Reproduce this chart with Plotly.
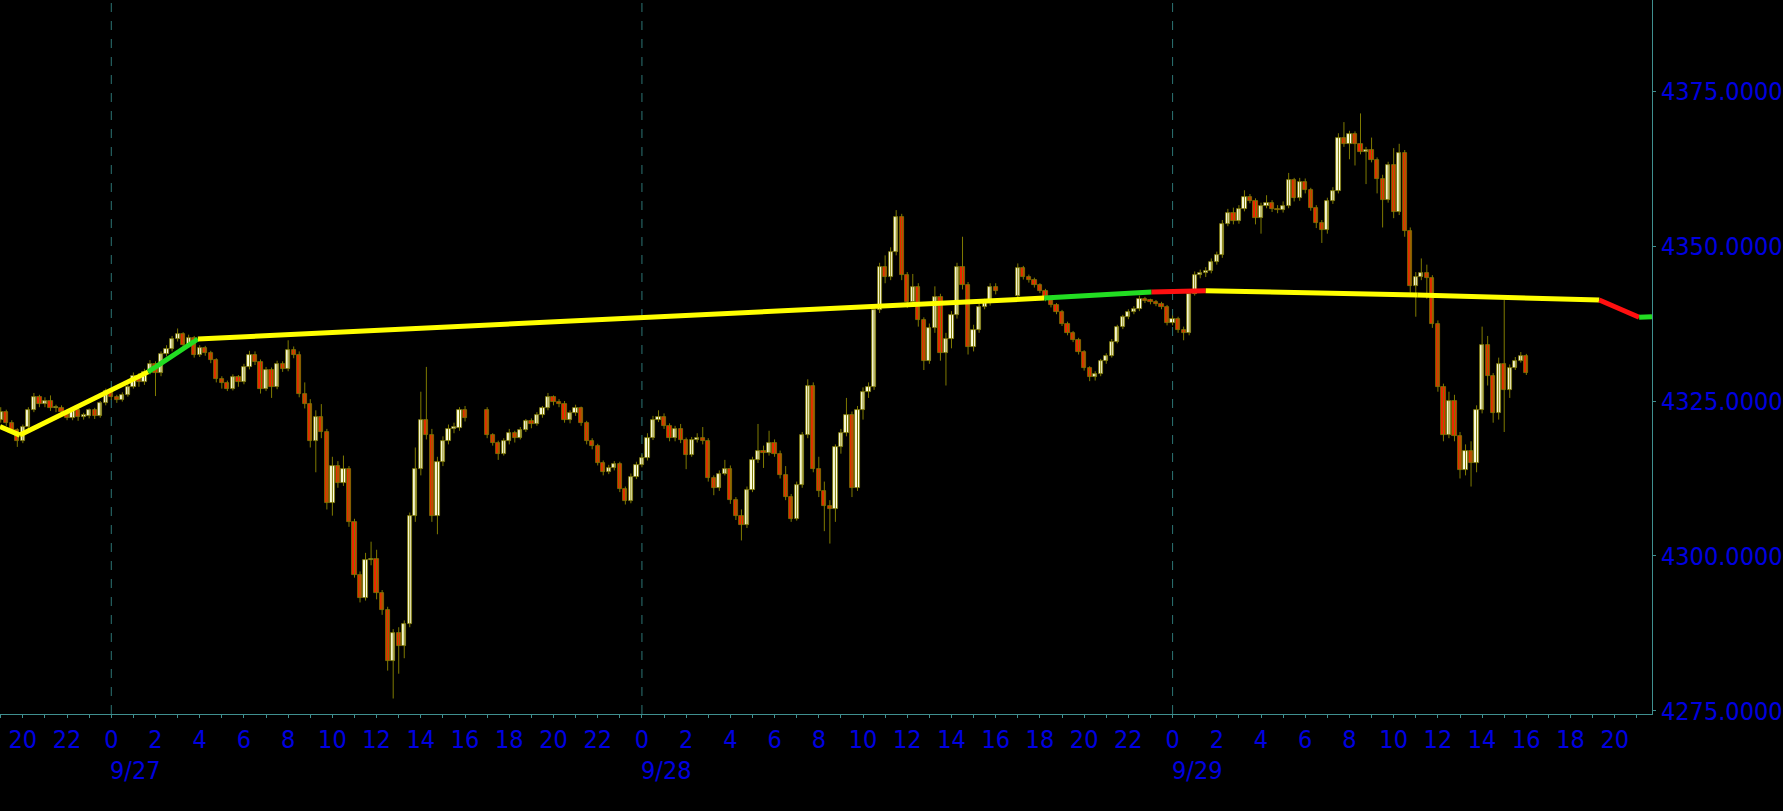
import pandas as pd
import plotly.graph_objects as go

# --- trading sessions (15-minute bars, gap 16:15-16:45 each day) ---
SESSIONS = [
    ("2021-09-26 19:00", "2021-09-27 16:00"),
    ("2021-09-27 17:00", "2021-09-28 16:00"),
    ("2021-09-28 17:00", "2021-09-29 16:00"),
]

OPEN = [
    # 9/26 19:00 -> 9/27 16:00
    4322.0, 4323.2, 4321.5, 4320.3, 4318.6, 4320.8, 4323.5, 4325.6, 4324.5, 4325.0, 4323.8, 4323.9,
    4323.2, 4322.3, 4323.6, 4322.5, 4322.6, 4323.5, 4322.6, 4324.6, 4326.6, 4325.7, 4325.2, 4326.0,
    4327.3, 4329.0, 4328.0, 4329.7, 4331.0, 4329.5, 4332.6, 4333.4, 4335.0, 4335.8, 4334.0, 4335.2,
    4332.5, 4333.5, 4332.8, 4331.6, 4328.5, 4327.9, 4327.0, 4328.8, 4328.0, 4330.5, 4332.5, 4331.3,
    4327.0, 4330.0, 4327.3, 4331.0, 4330.2, 4333.3, 4332.5, 4326.2, 4324.5, 4318.5, 4322.5, 4320.0,
    4308.5, 4314.5, 4311.8, 4314.0, 4305.5, 4297.0, 4293.2, 4299.3, 4299.5, 4294.0, 4291.3, 4283.0,
    4287.5, 4285.5, 4289.0, 4306.5, 4314.0, 4322.0, 4319.5, 4306.5, 4315.2, 4318.5, 4320.5, 4320.6,
    4323.5,
    # 9/27 17:00 -> 9/28 16:00
    4323.5, 4319.5, 4318.2, 4316.5, 4318.5, 4319.8, 4319.1, 4320.4, 4321.7, 4321.3, 4322.7, 4323.8,
    4325.6, 4324.8, 4324.5, 4322.0, 4323.0, 4323.8, 4321.4, 4318.5, 4317.8, 4315.0, 4313.6, 4314.2,
    4314.8, 4310.8, 4308.8, 4312.8, 4314.7, 4315.8, 4319.0, 4322.0, 4322.5, 4321.0, 4319.0, 4320.5,
    4318.7, 4316.3, 4318.7, 4319.0, 4318.5, 4312.5, 4311.0, 4313.3, 4314.0, 4309.0, 4306.4, 4305.0,
    4310.7, 4315.5, 4317.0, 4316.6, 4318.2, 4316.5, 4313.0, 4309.5, 4306.0, 4311.5, 4319.5, 4327.5,
    4314.0, 4310.5, 4308.0, 4307.5, 4317.5, 4319.8, 4322.8, 4311.0, 4323.5, 4326.5, 4327.3, 4339.7,
    4346.7, 4345.0, 4349.0, 4354.7, 4345.3, 4341.0, 4343.4, 4338.0, 4331.5, 4336.7, 4341.8, 4332.7,
    4335.0, 4338.8, 4346.7, 4343.7, 4333.7, 4336.5, 4340.2, 4340.8, 4343.4,
    # 9/28 17:00 -> 9/29 16:00
    4342.0, 4346.4, 4345.0, 4344.5, 4343.7, 4342.8, 4341.5, 4340.5, 4339.4, 4337.5, 4336.0, 4334.9,
    4332.9, 4330.3, 4328.8, 4329.4, 4331.4, 4332.3, 4334.6, 4336.9, 4338.5, 4339.4, 4339.8, 4341.5,
    4341.2, 4341.0, 4340.7, 4340.2, 4337.6, 4338.3, 4336.5, 4336.0, 4342.3, 4345.3, 4345.6, 4346.0,
    4347.4, 4348.5, 4353.6, 4355.3, 4354.0, 4356.0, 4357.9, 4357.3, 4354.6, 4356.5, 4357.0, 4356.0,
    4355.8, 4356.5, 4360.6, 4357.7, 4360.4, 4359.0, 4356.2, 4353.8, 4352.6, 4357.2, 4358.9, 4367.5,
    4366.5, 4368.0, 4366.5, 4365.2, 4365.5, 4363.9, 4360.9, 4357.5, 4363.0, 4355.5, 4365.0, 4352.5,
    4343.5, 4345.0, 4345.6, 4344.8, 4337.5, 4327.3, 4319.5, 4325.0, 4319.3, 4313.8, 4317.0, 4315.0,
    4323.5, 4334.0, 4329.0, 4323.0, 4331.0, 4326.8, 4330.3, 4331.5, 4332.3,
]

HIGH = [
    4324.0, 4323.6, 4321.9, 4320.6, 4321.2, 4324.0, 4326.3, 4326.0, 4325.6, 4325.9, 4324.4, 4324.3,
    4323.5, 4324.0, 4323.9, 4323.1, 4323.8, 4323.9, 4325.0, 4327.0, 4326.9, 4326.0, 4326.4, 4327.7,
    4329.6, 4329.5, 4330.2, 4331.6, 4331.4, 4333.0, 4334.0, 4335.5, 4336.7, 4336.1, 4335.7, 4335.5,
    4334.0, 4333.9, 4333.1, 4331.9, 4329.0, 4328.3, 4329.3, 4329.2, 4331.0, 4333.1, 4333.0, 4331.7,
    4330.5, 4330.4, 4331.5, 4331.4, 4334.8, 4333.8, 4333.0, 4328.0, 4325.3, 4323.5, 4324.5, 4320.5,
    4316.0, 4315.3, 4316.2, 4314.5, 4306.0, 4297.5, 4300.5, 4302.3, 4301.0, 4294.5, 4291.8, 4288.2,
    4288.5, 4289.6, 4307.0, 4317.5, 4326.5, 4330.5, 4320.5, 4316.0, 4319.3, 4321.2, 4321.5, 4324.0,
    4324.2,
    4324.0, 4319.8, 4318.6, 4319.0, 4320.5, 4320.2, 4320.8, 4322.1, 4322.2, 4323.2, 4324.2, 4326.3,
    4325.9, 4325.3, 4325.0, 4323.5, 4324.4, 4324.1, 4321.8, 4319.0, 4318.1, 4315.4, 4314.7, 4315.3,
    4315.2, 4311.2, 4313.3, 4315.2, 4316.4, 4319.8, 4322.6, 4323.5, 4323.0, 4321.4, 4321.0, 4321.3,
    4319.1, 4319.2, 4319.8, 4320.8, 4319.0, 4313.0, 4313.8, 4315.5, 4314.6, 4309.5, 4307.5, 4311.2,
    4316.0, 4321.3, 4317.8, 4320.2, 4318.8, 4317.0, 4314.5, 4310.0, 4312.0, 4320.0, 4328.5, 4328.0,
    4316.0, 4312.0, 4309.0, 4318.0, 4320.5, 4325.5, 4323.3, 4324.2, 4327.2, 4328.0, 4340.3, 4347.3,
    4348.5, 4349.8, 4355.8, 4355.2, 4345.8, 4345.5, 4344.0, 4338.5, 4337.5, 4343.5, 4342.3, 4336.0,
    4339.5, 4347.3, 4351.5, 4344.2, 4337.3, 4340.8, 4341.5, 4344.0, 4344.0,
    4347.2, 4346.8, 4345.4, 4344.9, 4344.0, 4343.1, 4341.8, 4340.8, 4339.7, 4337.8, 4336.3, 4335.2,
    4333.2, 4330.6, 4329.8, 4331.8, 4332.7, 4335.0, 4337.3, 4338.9, 4339.8, 4340.3, 4342.0, 4341.8,
    4341.5, 4341.3, 4341.0, 4340.5, 4338.8, 4338.6, 4337.0, 4342.8, 4345.9, 4346.2, 4346.6, 4348.0,
    4349.1, 4354.2, 4356.0, 4356.2, 4356.6, 4359.0, 4358.4, 4357.7, 4357.0, 4358.2, 4357.4, 4356.6,
    4357.2, 4361.8, 4361.0, 4361.0, 4360.9, 4359.4, 4356.6, 4354.2, 4357.8, 4359.5, 4368.2, 4370.0,
    4368.6, 4368.5, 4371.4, 4366.0, 4367.5, 4364.3, 4361.5, 4363.6, 4365.8, 4366.5, 4365.5, 4353.0,
    4345.8, 4348.0, 4347.0, 4345.3, 4338.0, 4327.8, 4326.5, 4326.0, 4320.0, 4318.0, 4318.5, 4324.3,
    4337.0, 4335.5, 4329.5, 4332.0, 4341.3, 4330.9, 4332.1, 4332.9, 4332.6,
]

LOW = [
    4321.5, 4321.0, 4319.8, 4317.6, 4318.2, 4320.4, 4323.2, 4324.0, 4324.0, 4323.4, 4323.2, 4322.7,
    4321.9, 4321.9, 4321.8, 4322.0, 4322.2, 4322.1, 4322.3, 4324.3, 4325.2, 4324.7, 4324.9, 4325.7,
    4327.0, 4327.3, 4327.6, 4329.3, 4325.8, 4329.0, 4332.2, 4333.0, 4334.6, 4333.5, 4333.6, 4332.0,
    4332.1, 4332.3, 4331.1, 4328.0, 4327.0, 4326.6, 4326.7, 4327.3, 4327.7, 4330.1, 4330.8, 4326.2,
    4326.6, 4325.5, 4326.9, 4329.7, 4329.8, 4331.9, 4325.6, 4323.8, 4317.5, 4313.5, 4319.0, 4307.5,
    4306.5, 4311.0, 4311.3, 4304.7, 4296.5, 4292.5, 4292.8, 4298.5, 4293.0, 4290.5, 4281.5, 4277.0,
    4281.0, 4283.5, 4288.5, 4305.5, 4313.0, 4318.8, 4305.5, 4303.5, 4314.5, 4318.0, 4319.8, 4320.2,
    4321.7,
    4319.0, 4317.8, 4315.5, 4316.2, 4318.0, 4318.3, 4318.8, 4320.0, 4320.6, 4321.0, 4322.3, 4323.5,
    4324.3, 4324.0, 4321.5, 4321.4, 4322.6, 4321.0, 4318.0, 4317.2, 4314.6, 4313.0, 4313.2, 4313.8,
    4310.3, 4308.3, 4308.5, 4312.4, 4314.3, 4315.4, 4318.7, 4321.6, 4320.5, 4318.5, 4318.5, 4318.2,
    4314.0, 4316.0, 4318.3, 4318.0, 4312.0, 4309.8, 4310.5, 4313.0, 4308.4, 4305.8, 4302.5, 4304.5,
    4310.3, 4315.0, 4314.2, 4316.2, 4316.0, 4312.5, 4309.0, 4305.5, 4305.7, 4311.0, 4319.0, 4313.5,
    4309.5, 4304.0, 4302.0, 4305.5, 4316.5, 4319.3, 4309.5, 4310.5, 4322.0, 4325.5, 4326.8, 4339.2,
    4344.0, 4344.5, 4348.5, 4344.5, 4340.0, 4340.5, 4337.0, 4330.0, 4331.0, 4336.0, 4331.5, 4327.5,
    4333.5, 4338.3, 4343.0, 4332.5, 4333.0, 4336.0, 4339.8, 4340.4, 4342.2,
    4341.6, 4344.6, 4344.1, 4343.3, 4342.4, 4341.1, 4340.1, 4339.0, 4337.1, 4335.6, 4334.5, 4332.5,
    4329.9, 4328.2, 4328.3, 4329.0, 4331.0, 4332.0, 4334.3, 4336.6, 4338.2, 4339.0, 4339.5, 4340.8,
    4340.6, 4340.3, 4339.8, 4337.2, 4337.2, 4336.0, 4334.8, 4335.6, 4342.0, 4344.8, 4345.0, 4345.6,
    4347.0, 4348.1, 4353.2, 4353.5, 4353.6, 4355.6, 4356.9, 4353.5, 4352.0, 4356.1, 4355.5, 4355.3,
    4355.4, 4356.1, 4357.2, 4357.3, 4358.5, 4355.7, 4352.9, 4350.5, 4352.0, 4356.8, 4358.5, 4366.0,
    4364.0, 4363.0, 4364.8, 4360.0, 4363.5, 4358.5, 4353.0, 4357.0, 4354.5, 4355.0, 4351.5, 4342.5,
    4338.6, 4344.5, 4341.5, 4336.8, 4326.5, 4318.5, 4319.0, 4318.5, 4312.5, 4313.0, 4311.2, 4313.5,
    4323.0, 4327.5, 4321.5, 4322.0, 4320.0, 4325.5, 4330.0, 4331.2, 4329.2,
]

CLOSE = [
    4323.2, 4321.5, 4320.3, 4318.6, 4320.8, 4323.5, 4325.6, 4324.5, 4325.0, 4323.8, 4323.9, 4323.2,
    4322.3, 4323.6, 4322.5, 4322.6, 4323.5, 4322.6, 4324.6, 4326.6, 4325.7, 4325.2, 4326.0, 4327.3,
    4329.0, 4328.0, 4329.7, 4331.0, 4329.5, 4332.6, 4333.4, 4335.0, 4335.8, 4334.0, 4335.2, 4332.5,
    4333.5, 4332.8, 4331.6, 4328.5, 4327.9, 4327.0, 4328.8, 4328.0, 4330.5, 4332.5, 4331.3, 4327.0,
    4330.0, 4327.3, 4331.0, 4330.2, 4333.3, 4332.5, 4326.2, 4324.5, 4318.5, 4322.5, 4320.0, 4308.5,
    4314.5, 4311.8, 4314.0, 4305.5, 4297.0, 4293.2, 4299.3, 4299.5, 4294.0, 4291.3, 4283.0, 4287.5,
    4285.5, 4289.0, 4306.5, 4314.0, 4322.0, 4319.5, 4306.5, 4315.2, 4318.5, 4320.5, 4320.6, 4323.5,
    4322.2,
    4319.5, 4318.2, 4316.5, 4318.5, 4319.8, 4319.1, 4320.4, 4321.7, 4321.3, 4322.7, 4323.8, 4325.6,
    4324.8, 4324.5, 4322.0, 4323.0, 4323.8, 4321.4, 4318.5, 4317.8, 4315.0, 4313.6, 4314.2, 4314.8,
    4310.8, 4308.8, 4312.8, 4314.7, 4315.8, 4319.0, 4322.0, 4322.5, 4321.0, 4319.0, 4320.5, 4318.7,
    4316.3, 4318.7, 4319.0, 4318.5, 4312.5, 4311.0, 4313.3, 4314.0, 4309.0, 4306.4, 4305.0, 4310.7,
    4315.5, 4317.0, 4316.6, 4318.2, 4316.5, 4313.0, 4309.5, 4306.0, 4311.5, 4319.5, 4327.5, 4314.0,
    4310.5, 4308.0, 4307.5, 4317.5, 4319.8, 4322.8, 4311.0, 4323.5, 4326.5, 4327.3, 4339.7, 4346.7,
    4345.0, 4349.0, 4354.7, 4345.3, 4341.0, 4343.4, 4338.0, 4331.5, 4336.7, 4341.8, 4332.7, 4335.0,
    4338.8, 4346.7, 4343.7, 4333.7, 4336.5, 4340.2, 4340.8, 4343.4, 4342.7,
    4346.4, 4345.0, 4344.5, 4343.7, 4342.8, 4341.5, 4340.5, 4339.4, 4337.5, 4336.0, 4334.9, 4332.9,
    4330.3, 4328.8, 4329.4, 4331.4, 4332.3, 4334.6, 4336.9, 4338.5, 4339.4, 4339.8, 4341.5, 4341.2,
    4341.0, 4340.7, 4340.2, 4337.6, 4338.3, 4336.5, 4336.0, 4342.3, 4345.3, 4345.6, 4346.0, 4347.4,
    4348.5, 4353.6, 4355.3, 4354.0, 4356.0, 4357.9, 4357.3, 4354.6, 4356.5, 4357.0, 4356.0, 4355.8,
    4356.5, 4360.6, 4357.7, 4360.4, 4359.0, 4356.2, 4353.8, 4352.6, 4357.2, 4358.9, 4367.5, 4366.5,
    4368.0, 4366.5, 4365.2, 4365.5, 4363.9, 4360.9, 4357.5, 4363.0, 4355.5, 4365.0, 4352.5, 4343.5,
    4345.0, 4345.6, 4344.8, 4337.5, 4327.3, 4319.5, 4325.0, 4319.3, 4313.8, 4317.0, 4315.0, 4323.5,
    4334.0, 4329.0, 4323.0, 4331.0, 4326.8, 4330.3, 4331.5, 4332.3, 4329.5,
]

# overlay average line: vertices and the colour of each segment after a vertex
LINE_TIME = [
    "2021-09-26 18:58", "2021-09-26 19:52", "2021-09-27 01:40", "2021-09-27 03:55",
    "2021-09-28 18:12", "2021-09-28 23:03", "2021-09-29 01:30", "2021-09-29 11:04",
    "2021-09-29 19:18", "2021-09-29 21:06", "2021-09-29 21:41",
]
LINE_VALUE = [4320.9, 4319.5, 4329.7, 4335.0, 4341.6, 4342.6, 4342.8, 4342.1, 4341.3, 4338.5, 4338.6]
LINE_COLOR = ["#FFFF00", "#FFFF00", "#22DD22", "#FFFF00", "#22DD22", "#FF1010", "#FFFF00",
              "#FFFF00", "#FF1010", "#22DD22"]

DAYS = ["2021-09-27", "2021-09-28", "2021-09-29"]
DAY_LABELS = ["9/27", "9/28", "9/29"]
Y_TICKS = [4275, 4300, 4325, 4350, 4375]

AXIS = "#3F8F8F"
BLUE = "#0000E0"
OLIVE = "#7F7A00"
LABEL_FONT = "DejaVu Sans Condensed, Noto Sans, DejaVu Sans"

times = pd.DatetimeIndex([])
for start, end in SESSIONS:
    times = times.append(pd.date_range(start, end, freq="15min"))

# candle bodies as floating bars, wicks as one broken line
body_base = [min(o, c) for o, c in zip(OPEN, CLOSE)]
body_size = [max(abs(c - o), 0.25) for o, c in zip(OPEN, CLOSE)]
body_color = ["#FFFFE2" if c >= o else "#F02400" for o, c in zip(OPEN, CLOSE)]

wick_x, wick_y = [], []
for t, h, l in zip(times, HIGH, LOW):
    wick_x += [t, t, None]
    wick_y += [l, h, None]

fig = go.Figure()

fig.add_trace(go.Scatter(x=wick_x, y=wick_y, mode="lines",
                         line=dict(color=OLIVE, width=1), hoverinfo="skip"))

fig.add_trace(go.Bar(
    x=times, y=body_size, base=body_base,
    width=11.5 * 60 * 1000,
    marker=dict(color=body_color, line=dict(color=OLIVE, width=0.8)),
    hoverinfo="skip",
))

# draw the line one coloured segment at a time
for i, col in enumerate(LINE_COLOR):
    fig.add_trace(go.Scatter(
        x=[LINE_TIME[i], LINE_TIME[i + 1]],
        y=[LINE_VALUE[i], LINE_VALUE[i + 1]],
        mode="lines", line=dict(color=col, width=5),
        hoverinfo="skip",
    ))

# dashed day separators
for d in DAYS:
    fig.add_shape(type="line", xref="x", yref="paper", x0=d, x1=d, y0=0, y1=1,
                  line=dict(color="#2C7474", width=1, dash="dash"), layer="below")

# date labels under the hour labels
for d, lab in zip(DAYS, DAY_LABELS):
    fig.add_annotation(x=d, y=0, xref="x", yref="paper", text=lab, showarrow=False,
                       xanchor="left", yanchor="middle", yshift=-56, xshift=-3,
                       font=dict(family=LABEL_FONT, size=25, color=BLUE))

hour_ticks = pd.date_range("2021-09-26 20:00", "2021-09-29 20:00", freq="2h")
hour_text = [str(t.hour) for t in hour_ticks]

fig.update_layout(
    width=1783, height=811,
    paper_bgcolor="black", plot_bgcolor="black",
    margin=dict(l=0, r=128, t=0, b=97),
    showlegend=False,
    bargap=0,
    xaxis=dict(
        range=["2021-09-26 18:58", "2021-09-29 21:41"],
        tickmode="array", tickvals=hour_ticks, ticktext=hour_text,
        ticks="outside", ticklen=3, tickcolor=AXIS,
        minor=dict(ticks="outside", ticklen=3, tickcolor=AXIS, dtick=3600000,
                   tick0="2021-09-26 19:00", showgrid=False),
        showgrid=False, zeroline=False,
        showline=True, linecolor=AXIS, linewidth=1,
        tickfont=dict(family=LABEL_FONT, size=25, color=BLUE),
    ),
    yaxis=dict(
        side="right", range=[4274.5, 4389.7],
        tickvals=Y_TICKS, tickformat=".4f",
        ticks="outside", ticklen=3, tickcolor=AXIS,
        showgrid=False, zeroline=False,
        showline=True, linecolor=AXIS, linewidth=1,
        tickfont=dict(family=LABEL_FONT, size=25, color=BLUE),
    ),
)

fig.write_html(
    "out.html",
    config={"displayModeBar": False},
    post_script="document.body.style.margin='0';"
                "document.body.style.background='black';"
                "document.documentElement.style.overflow='hidden';",
)
